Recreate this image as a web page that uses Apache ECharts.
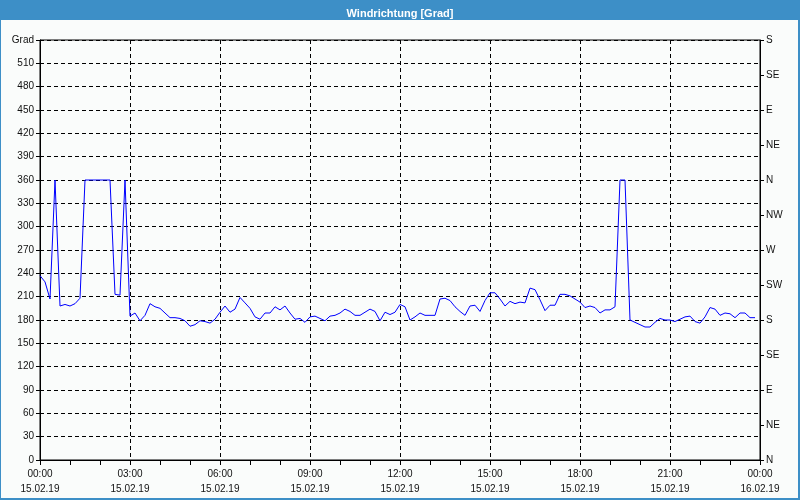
<!DOCTYPE html>
<html>
<head>
<meta charset="utf-8">
<script src="https://cdn.jsdelivr.net/npm/echarts@6/dist/echarts.min.js"></script>
<style>
  html, body { margin: 0; padding: 0; background: #fafcfb; }
  #chart { width: 800px; height: 500px; }
</style>
</head>
<body>
<div id="chart"></div>
<script>
// Wind direction in degrees, one reading every 10 minutes from 00:00 to 23:50 on 15.02.19
const sampleMinutes = 10;
const windDirection = [
  237, 229, 207, 360, 198, 200, 198, 201, 208, 360,
  360, 360, 360, 360, 360, 213, 212, 360, 185, 189,
  179, 186, 201, 197, 195, 189, 183, 183, 182, 179,
  172, 174, 179, 178, 176, 181, 190, 198, 190, 194,
  209, 202, 195, 184, 181, 189, 189, 197, 193, 198,
  189, 181, 182, 177, 184, 185, 182, 179, 185, 186,
  189, 194, 191, 186, 186, 190, 194, 191, 179, 190,
  187, 190, 200, 197, 180, 184, 189, 186, 186, 186,
  207, 208, 205, 197, 191, 186, 198, 199, 191, 205,
  215, 215, 207, 198, 204, 201, 203, 202, 221, 219,
  206, 192, 199, 199, 213, 213, 211, 207, 203, 196,
  198, 196, 189, 193, 193, 197, 360, 360, 180, 177,
  174, 171, 171, 177, 182, 180, 180, 178, 181, 184,
  185, 178, 176, 184, 196, 194, 186, 189, 188, 183,
  189, 189, 183, 183
];
const xTickLabels = [
  '00:00\n15.02.19', '03:00\n15.02.19', '06:00\n15.02.19', '09:00\n15.02.19',
  '12:00\n15.02.19', '15:00\n15.02.19', '18:00\n15.02.19', '21:00\n15.02.19',
  '00:00\n16.02.19'
];
const leftTopLabel = 'Grad';
const compassLabels = ['N', 'NE', 'E', 'SE', 'S', 'SW', 'W', 'NW', 'N', 'NE', 'E', 'SE', 'S'];
const titleText = 'Windrichtung [Grad]';

const chart = echarts.init(document.getElementById('chart'), null, { renderer: 'canvas' });
const FONT = 'Liberation Sans';
const TXT = '#111111';
const dash = [4, 3];

chart.setOption({
  animation: false,
  backgroundColor: '#fafcfb',
  title: {
    text: titleText,
    left: 'center',
    top: 3,
    textStyle: { color: '#ffffff', fontSize: 11, fontWeight: 'bold', fontFamily: FONT }
  },
  graphic: [
    { type: 'rect', z: -10, shape: { x: 0, y: 0, width: 800, height: 20 }, style: { fill: '#3d8fc7' } },
    { type: 'rect', z: -10, shape: { x: 0, y: 0, width: 1, height: 500 }, style: { fill: '#3d8fc7' } },
    { type: 'rect', z: -10, shape: { x: 798, y: 0, width: 2, height: 500 }, style: { fill: '#3d8fc7' } },
    { type: 'rect', z: -10, shape: { x: 0, y: 498, width: 800, height: 2 }, style: { fill: '#3d8fc7' } }
  ],
  grid: {
    left: 40, right: 40, top: 40, bottom: 40,
    show: true, borderColor: '#000', borderWidth: 1, backgroundColor: 'transparent'
  },
  xAxis: {
    type: 'value',
    min: 0, max: 1440, interval: 180,
    axisLine: { show: true, lineStyle: { color: '#000', width: 1 } },
    axisTick: { show: true, length: 5, lineStyle: { color: '#000' } },
    minorTick: { show: true, splitNumber: 3, length: 5, lineStyle: { color: '#000' } },
    splitLine: { show: true, lineStyle: { color: '#000', type: dash, width: 1 } },
    axisLabel: {
      color: TXT, fontSize: 10, fontFamily: FONT, lineHeight: 15, margin: 7,
      formatter: v => xTickLabels[Math.round(v / 180)]
    }
  },
  yAxis: [
    {
      type: 'value', position: 'left',
      min: 0, max: 540, interval: 30,
      axisLine: { show: true, lineStyle: { color: '#000' } },
      axisTick: { show: true, length: 4, lineStyle: { color: '#000' } },
      splitLine: { show: true, lineStyle: { color: '#000', type: dash, width: 1 } },
      axisLabel: {
        color: TXT, fontSize: 10, fontFamily: FONT, margin: 6,
        formatter: v => (v === 540 ? leftTopLabel : String(v))
      }
    },
    {
      type: 'value', position: 'right',
      min: 0, max: 540, interval: 45,
      axisLine: { show: true, lineStyle: { color: '#000' } },
      axisTick: { show: true, length: 4, lineStyle: { color: '#000' } },
      splitLine: { show: false },
      axisLabel: {
        color: TXT, fontSize: 10, fontFamily: FONT, margin: 6,
        formatter: v => compassLabels[Math.round(v / 45)]
      }
    }
  ],
  series: [{
    type: 'line',
    yAxisIndex: 0,
    showSymbol: false,
    symbol: 'none',
    lineStyle: { color: '#0000ff', width: 1 },
    data: windDirection.map((v, i) => [i * sampleMinutes, v])
  }]
});
</script>
</body>
</html>
